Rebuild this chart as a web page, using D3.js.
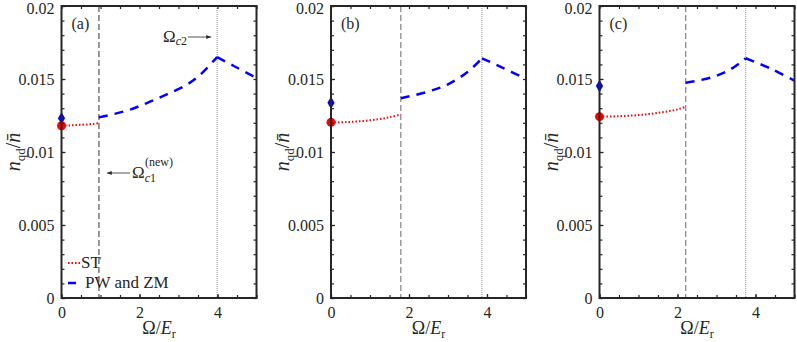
<!DOCTYPE html>
<html>
<head>
<meta charset="utf-8">
<script src="https://cdn.jsdelivr.net/npm/d3@7"></script>
<style>
  body { margin: 0; background: #fff; }
</style>
</head>
<body>
<div id="chart"></div>
<script>
// panel labels
const panelNames = ["(a)", "(b)", "(c)"];

// critical frequencies (dashed = c1, dotted = c2)
const omegaC1 = [0.96, 1.79, 2.21];
const omegaC2 = [3.99, 3.87, 3.75];

// ST branch (red dotted)
const stX = [
  [0, 0.2, 0.4, 0.6, 0.8, 0.96],
  [0, 0.4, 0.8, 1.2, 1.5, 1.79],
  [0, 0.5, 1.0, 1.5, 2.0, 2.21]
];
const stY = [
  [0.01180, 0.01182, 0.01185, 0.01188, 0.01192, 0.01197],
  [0.01203, 0.01205, 0.01212, 0.01224, 0.01238, 0.01258],
  [0.01242, 0.01245, 0.01253, 0.01268, 0.01292, 0.01310]
];

// PW and ZM branch (blue dashed)
const pwX = [
  [0.96, 1.67, 2.19, 2.70, 3.22, 3.56, 3.99, 4.42, 5.0],
  [1.79, 2.48, 2.99, 3.51, 3.87, 4.42, 5.0],
  [2.21, 2.85, 3.36, 3.75, 4.40, 5.0]
];
const pwY = [
  [0.01237, 0.01283, 0.01335, 0.01395, 0.01462, 0.01530, 0.01650, 0.01589, 0.01507],
  [0.01368, 0.01413, 0.01462, 0.01550, 0.01642, 0.01575, 0.01500],
  [0.01475, 0.01509, 0.01566, 0.01642, 0.01570, 0.01488]
];

// values at Omega = 0
const stZero = [0.01180, 0.01203, 0.01242];
const pwZero = [0.01231, 0.01338, 0.01452];

// axis ticks
const xTicks = [0, 2, 4];
const yTicks = [0, 0.005, 0.01, 0.015, 0.02];
const yTickLabels = ["0", "0.005", "0.01", "0.015", "0.02"];

const W = 797, H = 342;
const panelLeft = [61.5, 331, 599.5];
const panelWidth = 195;
const plotTop = 6, plotBottom = 298;
const axisColor = "#262626";
const serif = "'Liberation Serif', 'Times New Roman', Tinos, 'Noto Serif', 'DejaVu Serif', serif";

const svg = d3.select("#chart").append("svg")
  .attr("width", W).attr("height", H)
  .attr("font-family", serif);

const y = d3.scaleLinear().domain([0, 0.02]).range([plotBottom, plotTop]);

panelNames.forEach((name, i) => {
  const x = d3.scaleLinear().domain([0, 5]).range([panelLeft[i], panelLeft[i] + panelWidth]);
  const g = svg.append("g");

  // vertical reference lines
  g.append("line")
    .attr("x1", x(omegaC1[i])).attr("x2", x(omegaC1[i]))
    .attr("y1", plotTop).attr("y2", plotBottom)
    .attr("stroke", i === 0 ? "#333" : "#8a8a8a")
    .attr("stroke-width", i === 0 ? 1 : 1.3)
    .attr("stroke-dasharray", "6,3");
  g.append("line")
    .attr("x1", x(omegaC2[i])).attr("x2", x(omegaC2[i]))
    .attr("y1", plotTop).attr("y2", plotBottom)
    .attr("stroke", "#777")
    .attr("stroke-width", 0.8)
    .attr("stroke-dasharray", "1,1");

  const line = d3.line()
    .x(d => x(d[0])).y(d => y(d[1]))
    .curve(d3.curveCatmullRom.alpha(0.5));

  // ST branch
  g.append("path")
    .datum(d3.zip(stX[i], stY[i]))
    .attr("d", line)
    .attr("fill", "none")
    .attr("stroke", "#ff0000")
    .attr("stroke-width", 2)
    .attr("stroke-dasharray", "1.5,2");

  // PW and ZM branch: rising part and falling part
  const pts = d3.zip(pwX[i], pwY[i]);
  const k = pwX[i].indexOf(omegaC2[i]);
  [pts.slice(0, k + 1), pts.slice(k)].forEach(part => {
    g.append("path")
      .datum(part)
      .attr("d", line)
      .attr("fill", "none")
      .attr("stroke", "#0000ff")
      .attr("stroke-width", 2.5)
      .attr("stroke-dasharray", "9,7");
  });

  // markers at zero
  g.append("path")
    .attr("d", d3.symbol(d3.symbolDiamond, 45)())
    .attr("transform", `translate(${x(0)},${y(pwZero[i])})`)
    .attr("fill", "#0000ff");
  g.append("circle")
    .attr("cx", x(0)).attr("cy", y(stZero[i]))
    .attr("r", 4.5)
    .attr("fill", "#ff0000");

  // axes: ticks inward on all four sides
  const styleAxis = a => {
    a.attr("font-family", serif);
    a.select(".domain").remove();
    a.selectAll("line").attr("stroke", axisColor).attr("stroke-width", 1.2);
    a.selectAll("text").attr("font-size", 16).attr("fill", axisColor);
  };
  const minorX = d3.range(0, 5.01, 0.5);
  const minorY = d3.range(0, 0.0201, 0.001);

  g.append("g").attr("transform", `translate(0,${plotBottom})`)
    .call(d3.axisBottom(x).tickValues(minorX).tickSize(-3).tickFormat(""))
    .call(styleAxis);
  g.append("g").attr("transform", `translate(0,${plotTop})`)
    .call(d3.axisTop(x).tickValues(minorX).tickSize(-3).tickFormat(""))
    .call(styleAxis);
  g.append("g").attr("transform", `translate(${x(0)},0)`)
    .call(d3.axisLeft(y).tickValues(minorY).tickSize(-3).tickFormat(""))
    .call(styleAxis);
  g.append("g").attr("transform", `translate(${x(5)},0)`)
    .call(d3.axisRight(y).tickValues(minorY).tickSize(-3).tickFormat(""))
    .call(styleAxis);

  // labelled ticks
  g.append("g").attr("transform", `translate(0,${plotBottom})`)
    .call(d3.axisBottom(x).tickValues(xTicks).tickSize(-4).tickPadding(9).tickFormat(d3.format("d")))
    .call(styleAxis);
  const yAxis = g.append("g").attr("transform", `translate(${x(0)},0)`)
    .call(d3.axisLeft(y).tickValues(yTicks).tickSize(-4).tickPadding(7)
      .tickFormat((d, j) => yTickLabels[j]))
    .call(styleAxis);
  yAxis.selectAll("text").filter(d => d === 0.02).attr("dy", "0.45em");

  // frame
  g.append("rect")
    .attr("x", x(0)).attr("y", plotTop)
    .attr("width", x(5) - x(0)).attr("height", plotBottom - plotTop)
    .attr("fill", "none").attr("stroke", axisColor).attr("stroke-width", 2);

  // panel letter
  g.append("text")
    .attr("x", x(0) + 10).attr("y", 29)
    .attr("font-size", 16).attr("fill", axisColor)
    .text(name);

  // x label
  const xl = g.append("text")
    .attr("x", (x(0) + x(5)) / 2).attr("y", 334)
    .attr("text-anchor", "middle")
    .attr("font-size", 18).attr("fill", axisColor);
  xl.append("tspan").text("Ω/");
  xl.append("tspan").attr("font-style", "italic").text("E");
  xl.append("tspan").attr("font-size", 12).attr("dy", 4).text("r");

  // y label
  const yl = g.append("text")
    .attr("transform", `translate(${x(0) - 42},${(plotTop + plotBottom) / 2}) rotate(-90)`)
    .attr("text-anchor", "middle")
    .attr("font-size", 20).attr("fill", axisColor);
  yl.append("tspan").attr("font-style", "italic").text("n");
  yl.append("tspan").attr("font-size", 13).attr("dy", 5).text("qd");
  yl.append("tspan").attr("dy", -5).text("/");
  yl.append("tspan").attr("font-style", "italic").text("n\u0304");
});

// annotations and legend in panel (a)
const xa = d3.scaleLinear().domain([0, 5]).range([panelLeft[0], panelLeft[0] + panelWidth]);

svg.append("defs").append("marker")
  .attr("id", "arrow").attr("viewBox", "0 0 10 10")
  .attr("refX", 10).attr("refY", 5)
  .attr("markerWidth", 6).attr("markerHeight", 6)
  .attr("orient", "auto")
  .append("path").attr("d", "M0,1 L10,5 L0,9 Z").attr("fill", "#262626");

const c2 = svg.append("text").attr("x", 163).attr("y", 42).attr("font-size", 17).attr("fill", axisColor);
c2.append("tspan").text("Ω");
c2.append("tspan").attr("font-size", 12).attr("dy", 3).attr("font-style", "italic").text("c");
c2.append("tspan").attr("font-size", 12).text("2");
svg.append("line")
  .attr("x1", 188).attr("x2", xa(omegaC2[0]) - 6)
  .attr("y1", 37).attr("y2", 37)
  .attr("stroke", "#262626").attr("stroke-width", 0.8)
  .attr("marker-end", "url(#arrow)");

svg.append("line")
  .attr("x1", 130).attr("x2", xa(omegaC1[0]) + 8)
  .attr("y1", 173).attr("y2", 173)
  .attr("stroke", "#262626").attr("stroke-width", 0.8)
  .attr("marker-end", "url(#arrow)");
const c1 = svg.append("text").attr("x", 132).attr("y", 178).attr("font-size", 17).attr("fill", axisColor);
c1.append("tspan").text("Ω");
c1.append("tspan").attr("font-size", 12).attr("dy", 4).attr("font-style", "italic").text("c");
c1.append("tspan").attr("font-size", 12).text("1");
svg.append("text").attr("x", 145).attr("y", 166).attr("font-size", 12).attr("fill", axisColor).text("(new)");

// legend
const legend = svg.append("g");
legend.append("line")
  .attr("x1", 68).attr("x2", 81).attr("y1", 263).attr("y2", 263)
  .attr("stroke", "#ff0000").attr("stroke-width", 2).attr("stroke-dasharray", "1.5,2");
legend.append("text").attr("x", 81).attr("y", 268).attr("font-size", 17).attr("fill", axisColor).text("ST");
legend.append("line")
  .attr("x1", 68).attr("x2", 76).attr("y1", 283).attr("y2", 283)
  .attr("stroke", "#0000ff").attr("stroke-width", 2.5);
legend.append("text").attr("x", 85).attr("y", 288).attr("font-size", 17).attr("fill", axisColor).text("PW and ZM");
</script>
</body>
</html>
